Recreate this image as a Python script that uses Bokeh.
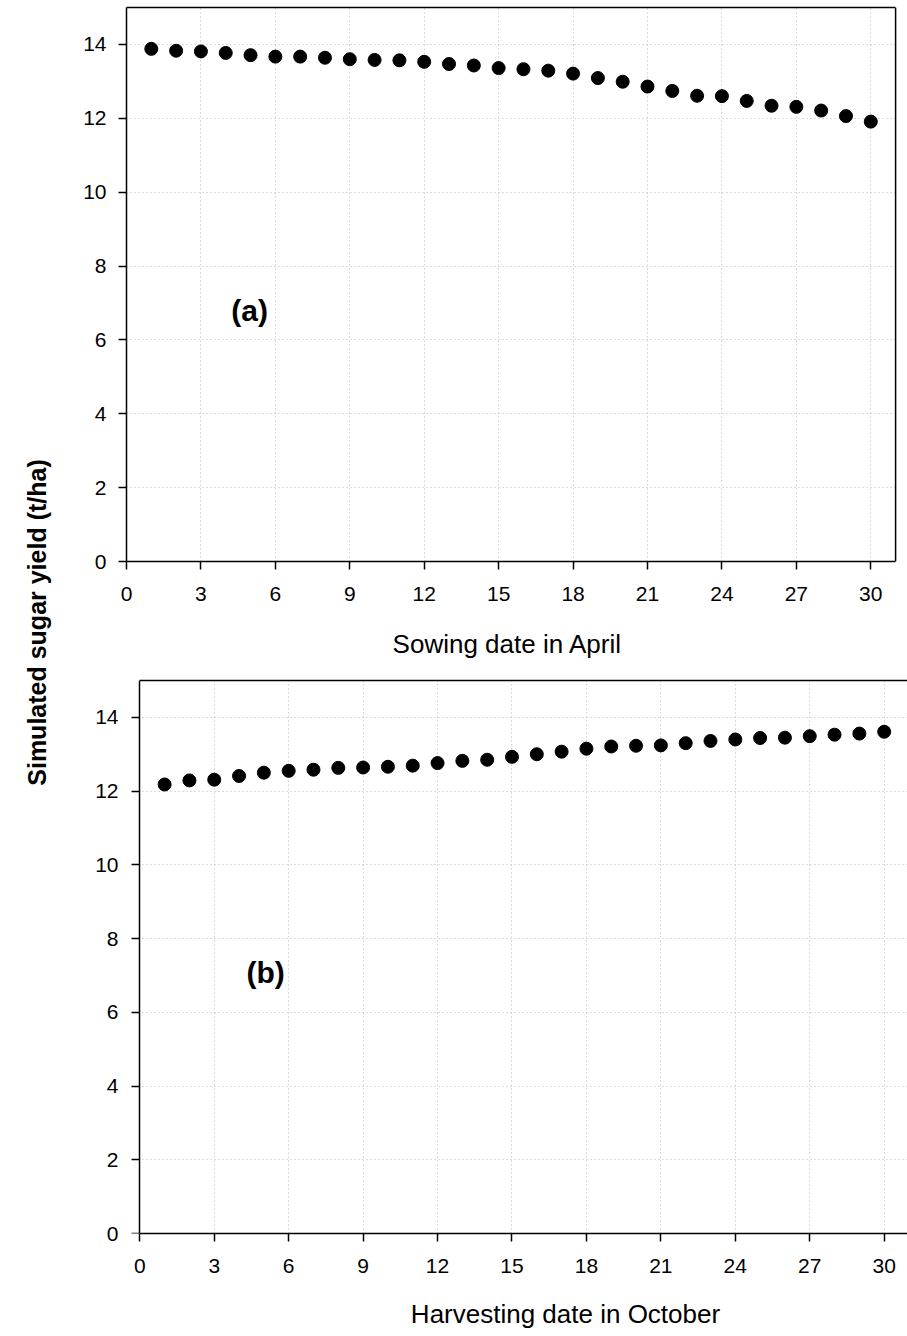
import math
from bokeh.plotting import figure
from bokeh.layouts import row, column
from bokeh.models import FixedTicker, Label, LinearAxis, Span, BoxAnnotation, Range1d
from bokeh.embed import file_html
from bokeh.resources import INLINE

# ---- data ----
days = [1, 2, 3, 4, 5, 6, 7, 8, 9, 10, 11, 12, 13, 14, 15,
        16, 17, 18, 19, 20, 21, 22, 23, 24, 25, 26, 27, 28, 29, 30]
sowing_yield = [13.88, 13.83, 13.81, 13.77, 13.71, 13.67, 13.67, 13.64, 13.60, 13.58,
                13.57, 13.53, 13.47, 13.43, 13.36, 13.33, 13.29, 13.21, 13.09, 12.99,
                12.86, 12.74, 12.61, 12.60, 12.47, 12.34, 12.31, 12.21, 12.06, 11.91]
harvest_yield = [12.18, 12.29, 12.31, 12.41, 12.50, 12.55, 12.58, 12.63, 12.64, 12.66,
                 12.69, 12.76, 12.82, 12.85, 12.93, 13.00, 13.07, 13.15, 13.21, 13.23,
                 13.24, 13.30, 13.36, 13.40, 13.44, 13.45, 13.49, 13.53, 13.56, 13.61]
x_ticks = [0, 3, 6, 9, 12, 15, 18, 21, 24, 27, 30]
y_ticks = [0, 2, 4, 6, 8, 10, 12, 14]
y_title = "Simulated sugar yield (t/ha)"
x_title_a = "Sowing date in April"
x_title_b = "Harvesting date in October"

FONT = "Liberation Sans"
X_MAX = 31          # right end of the axes box
Y_MAX = 15
LEFT = 56           # common left border of the stacked figures
FRAME_W = 781


def style(p):
    p.background_fill_color = "white"
    p.border_fill_color = "white"
    p.outline_line_color = None
    for ax in p.axis:
        ax.axis_line_color = "black"
        ax.axis_line_width = 1.5
        ax.major_tick_line_color = "black"
        ax.major_tick_line_width = 1.5
        ax.major_tick_out = 8
        ax.major_tick_in = 0
        ax.minor_tick_out = 0
        ax.minor_tick_in = 0
        ax.major_label_text_font = FONT
        ax.major_label_text_font_size = "21px"
        ax.major_label_text_color = "black"
    p.xaxis.ticker = FixedTicker(ticks=x_ticks)
    p.yaxis.ticker = FixedTicker(ticks=y_ticks)
    p.xaxis.major_label_standoff = 17
    p.yaxis.major_label_standoff = 12
    p.xaxis.bounds = (0, X_MAX)
    for g in p.grid:
        g.grid_line_color = "#b8b8b8"
        g.grid_line_dash = "1 3"
        g.grid_line_width = 1


def top_border(p):
    ax = LinearAxis(ticker=FixedTicker(ticks=[]), bounds=(0, X_MAX))
    ax.axis_line_color = "black"
    ax.axis_line_width = 1.5
    ax.major_tick_out = 0
    ax.major_tick_in = 0
    ax.minor_tick_out = 0
    ax.minor_tick_in = 0
    ax.major_label_standoff = 0
    p.add_layout(ax, "above")


def title_strip(text, top, height, cx, cy):
    s = figure(frame_width=FRAME_W, frame_height=height,
               x_range=Range1d(LEFT + 70, LEFT + 70 + FRAME_W),
               y_range=Range1d(top + height, top),
               min_border_left=LEFT, min_border_right=0, min_border_top=0,
               min_border_bottom=0, toolbar_location=None, output_backend="svg",
               x_axis_location=None, y_axis_location=None)
    s.outline_line_color = None
    s.grid.visible = False
    s.background_fill_color = "white"
    s.border_fill_color = "white"
    s.add_layout(Label(x=cx, y=cy, text=text, text_align="center",
                       text_baseline="middle", text_font=FONT,
                       text_font_size="26px", text_color="black"))
    return s


# ---- y-title strip ----
pt = figure(width=70, height=1336, x_range=(0, 70), y_range=(0, 1336),
            min_border=0, toolbar_location=None, output_backend="svg",
            x_axis_location=None, y_axis_location=None)
pt.outline_line_color = None
pt.grid.visible = False
pt.background_fill_color = "white"
pt.border_fill_color = "white"
pt.add_layout(Label(x=36, y=714, text=y_title, angle=math.pi / 2,
                    text_align="center", text_baseline="middle",
                    text_font=FONT, text_font_size="25px",
                    text_font_style="bold", text_color="black"))

# ---- panel (a) ----
p1 = figure(frame_width=FRAME_W, frame_height=554, x_range=Range1d(0, 31.48),
            y_range=Range1d(0, Y_MAX),
            min_border_left=LEFT, min_border_right=0, min_border_top=7,
            min_border_bottom=55, toolbar_location=None, output_backend="svg")
style(p1)
p1.add_layout(BoxAnnotation(left=X_MAX, fill_color="white", fill_alpha=1,
                            line_alpha=0, level="underlay"))
p1.scatter(days, sowing_yield, size=13, color="black")
p1.add_layout(Span(location=X_MAX, dimension="height", line_color="black",
                   line_width=1.5))
top_border(p1)
p1.add_layout(Label(x=4.96, y=6.8, text="(a)", text_align="center",
                    text_baseline="middle", text_font=FONT,
                    text_font_size="30px", text_font_style="bold",
                    text_color="black"))

strip_a = title_strip(x_title_a, 616, 56, 507, 643)

# ---- panel (b) ----
p2 = figure(frame_width=FRAME_W, frame_height=553, x_range=Range1d(-0.536, 30.94),
            y_range=Range1d(0, Y_MAX),
            min_border_left=LEFT, min_border_right=0, min_border_top=8,
            min_border_bottom=55, toolbar_location=None, output_backend="svg")
style(p2)
# labels-only axis at the box edge
lab_axis = p2.yaxis[0]
lab_axis.axis_line_color = None
lab_axis.major_tick_out = 0
lab_axis.major_label_standoff = 8
# line + ticks of the y axis at x = 0
y_line = LinearAxis(ticker=FixedTicker(ticks=y_ticks), fixed_location=0,
                    major_label_overrides={t: "" for t in y_ticks})
y_line.axis_line_color = "black"
y_line.axis_line_width = 1.5
y_line.major_tick_line_color = "black"
y_line.major_tick_line_width = 1.5
y_line.major_tick_out = 8
y_line.major_tick_in = 0
y_line.minor_tick_out = 0
y_line.minor_tick_in = 0
y_line.major_label_standoff = 0
p2.add_layout(y_line, "left")
p2.add_layout(BoxAnnotation(right=0, fill_color="white", fill_alpha=1,
                            line_alpha=0, level="underlay"))
p2.scatter(days, harvest_yield, size=13, color="black")
top_border(p2)
p2.add_layout(Label(x=5.07, y=7.08, text="(b)", text_align="center",
                    text_baseline="middle", text_font=FONT,
                    text_font_size="30px", text_font_style="bold",
                    text_color="black"))

strip_b = title_strip(x_title_b, 1288, 48, 565, 1313)

layout = row(pt, column(p1, strip_a, p2, strip_b, spacing=0), spacing=0)

open("out.html", "w").write(file_html(layout, INLINE))
